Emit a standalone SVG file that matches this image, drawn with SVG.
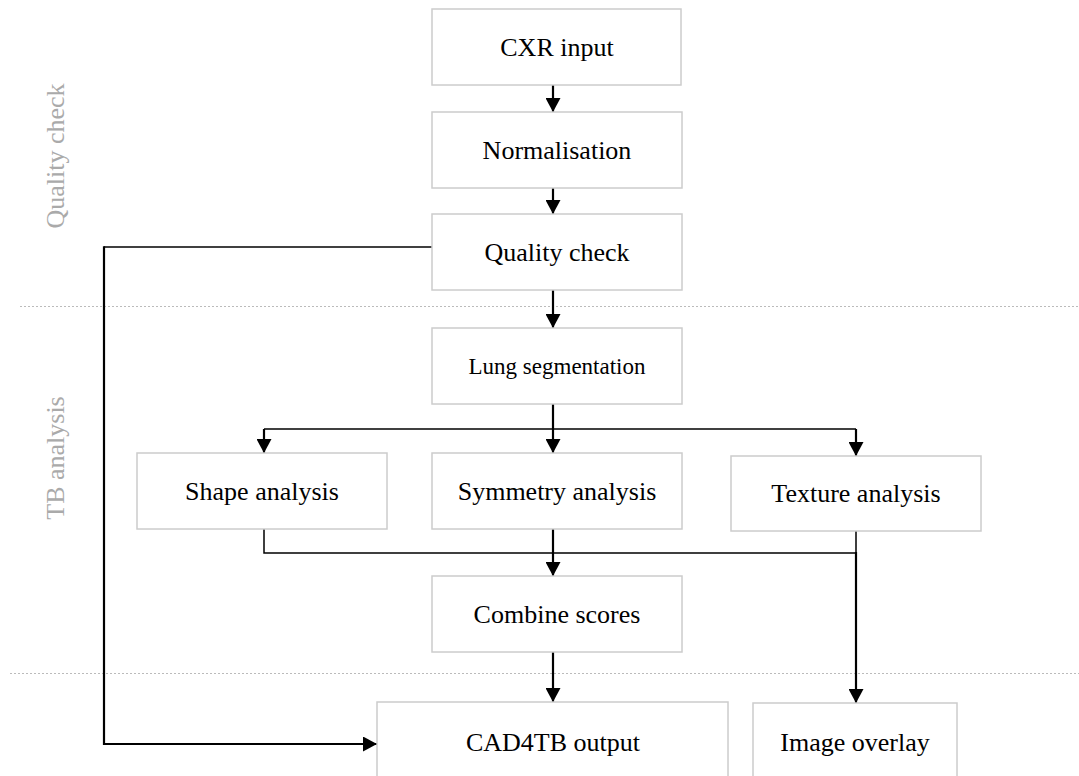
<svg xmlns="http://www.w3.org/2000/svg" width="1079" height="776" viewBox="0 0 1079 776">
<style>
.box{fill:#fff;stroke:#cccccc;stroke-width:1.5}
.t{font-family:"Liberation Serif","Times New Roman",serif;font-size:26px;fill:#000;text-anchor:middle;dominant-baseline:central}
.lane{font-family:"Liberation Serif","Times New Roman",serif;font-size:26px;fill:#aaaaaa;text-anchor:middle;dominant-baseline:central}
.sep{stroke:#bbbbbb;stroke-width:1;stroke-dasharray:2 2;fill:none}
.c{fill:none;stroke:#000;stroke-width:2.2}
.thin{fill:none;stroke:#000;stroke-width:1.5}
</style>
<defs>
<marker id="ah" viewBox="0 0 14 15" refX="14" refY="7.5" markerWidth="14" markerHeight="15" markerUnits="userSpaceOnUse" orient="auto">
<path d="M0,0 L14,7.5 L0,15 Z" fill="#000"/>
</marker>
</defs>
<g id="lanes">
<line class="sep" x1="20" y1="306.5" x2="1079" y2="306.5"/>
<line class="sep" x1="10" y1="673.5" x2="1079" y2="673.5"/>
<text class="lane" transform="translate(55,156) rotate(-90)">Quality check</text>
<text class="lane" transform="translate(55,458) rotate(-90)">TB analysis</text>
</g>
<g id="connectors">
<path class="c" d="M553,85 V112" marker-end="url(#ah)"/>
<path class="c" d="M553,188 V214" marker-end="url(#ah)"/>
<path class="c" d="M553,290 V328" marker-end="url(#ah)"/>
<path class="c" d="M553,404 V453" marker-end="url(#ah)"/>
<path class="thin" d="M264,429 H856"/>
<path class="c" d="M264,429 V453" marker-end="url(#ah)"/>
<path class="c" d="M856,429 V456" marker-end="url(#ah)"/>
<path class="thin" d="M432,247 H104"/>
<path class="c" d="M104,246.3 V744 H377" marker-end="url(#ah)"/>
<path class="thin" d="M264,529 V553 H856 V531"/>
<path class="c" d="M553,529 V576" marker-end="url(#ah)"/>
<path class="c" d="M856,552 V703" marker-end="url(#ah)"/>
<path class="c" d="M553,652 V702" marker-end="url(#ah)"/>
</g>
<g id="cxr"><rect class="box" x="432" y="9" width="249" height="76"/><text class="t" x="557" y="47">CXR input</text></g>
<g id="norm"><rect class="box" x="432" y="112" width="250" height="76"/><text class="t" x="557" y="150">Normalisation</text></g>
<g id="qc"><rect class="box" x="432" y="214" width="250" height="76"/><text class="t" x="557" y="252">Quality check</text></g>
<g id="lung"><rect class="box" x="432" y="328" width="250" height="76"/><text class="t" x="557" y="366" style="font-size:23px">Lung segmentation</text></g>
<g id="shape"><rect class="box" x="137" y="453" width="250" height="76"/><text class="t" x="262" y="491">Shape analysis</text></g>
<g id="sym"><rect class="box" x="432" y="453" width="250" height="76"/><text class="t" x="557" y="491">Symmetry analysis</text></g>
<g id="tex"><rect class="box" x="731" y="456" width="250" height="75"/><text class="t" x="856" y="493">Texture analysis</text></g>
<g id="comb"><rect class="box" x="432" y="576" width="250" height="76"/><text class="t" x="557" y="614">Combine scores</text></g>
<g id="cad"><rect class="box" x="377" y="702" width="351" height="80"/><text class="t" x="553" y="742">CAD4TB output</text></g>
<g id="overlay"><rect class="box" x="753" y="703" width="204" height="80"/><text class="t" x="855" y="742">Image overlay</text></g>
</svg>
